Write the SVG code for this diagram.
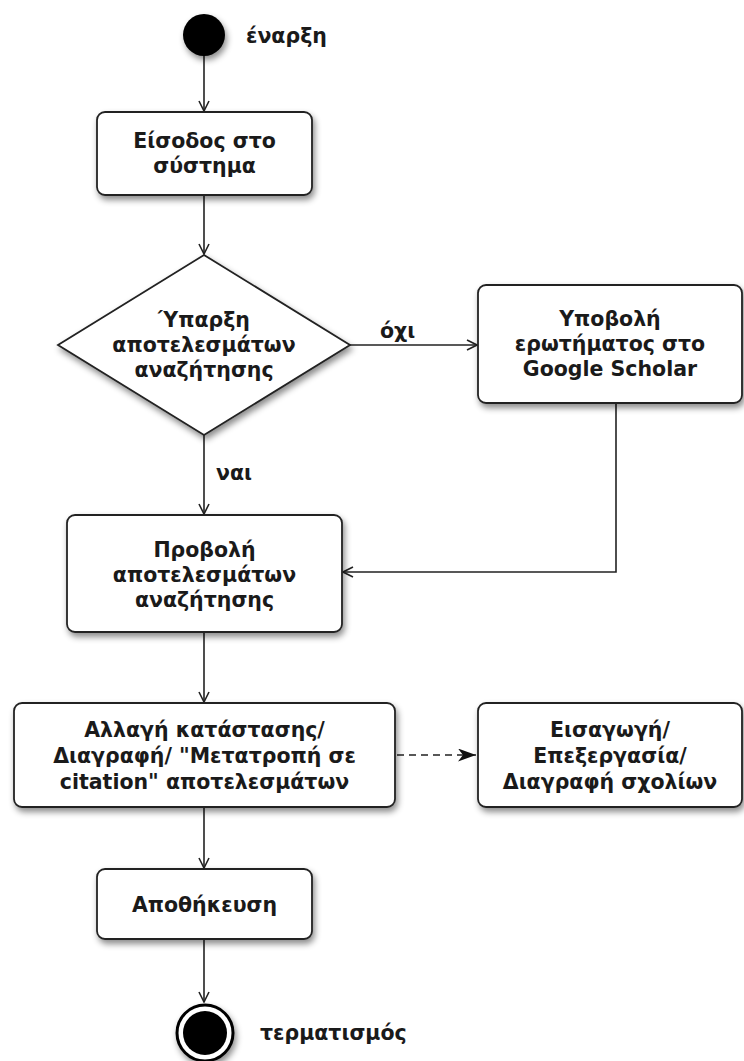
<svg xmlns="http://www.w3.org/2000/svg" width="744" height="1061" viewBox="0 0 744 1061">
<style>
.box{fill:#fff;stroke:#222;stroke-width:1.8;filter:url(#sh)}
.t{font-family:"DejaVu Sans","Liberation Sans",sans-serif;font-weight:bold;font-size:20.5px;fill:#1a1a1a;text-anchor:middle}
.lbl{font-family:"DejaVu Sans","Liberation Sans",sans-serif;font-weight:bold;font-size:20.5px;fill:#1a1a1a}
.c{fill:none;stroke:#222;stroke-width:1.6}
</style>
<defs>
<filter id="sh" x="-20%" y="-20%" width="150%" height="160%">
<feDropShadow dx="2" dy="4" stdDeviation="3" flood-color="#000" flood-opacity="0.45"/>
</filter>
<marker id="open" viewBox="0 0 12 12" refX="11" refY="6" markerWidth="12" markerHeight="12" markerUnits="userSpaceOnUse" orient="auto">
<path d="M1,1 L11,6 L1,11" fill="none" stroke="#222" stroke-width="1.6"/>
</marker>
<marker id="filled" viewBox="0 0 18 13" refX="18" refY="6.5" markerWidth="18" markerHeight="13" markerUnits="userSpaceOnUse" orient="auto">
<path d="M0,0 L18,6.5 L0,13 L5,6.5 Z" fill="#111"/>
</marker>
</defs>

<g id="connectors">
<path class="c" d="M204,56 L204,111" marker-end="url(#open)"/>
<path class="c" d="M204,195 L204,254" marker-end="url(#open)"/>
<path class="c" d="M350,345 L477,345" marker-end="url(#open)"/>
<path class="c" d="M204,435 L204,514" marker-end="url(#open)"/>
<path class="c" d="M616,403 L616,572 L343,572" marker-end="url(#open)"/>
<path class="c" d="M204,632 L204,702" marker-end="url(#open)"/>
<path class="c" d="M397,755 L476,755" stroke-width="2.4" stroke-dasharray="7,5" marker-end="url(#filled)"/>
<path class="c" d="M204,807 L204,868" marker-end="url(#open)"/>
<path class="c" d="M204,939 L204,1002" marker-end="url(#open)"/>
<text class="lbl" x="380" y="338">όχι</text>
<text class="lbl" x="216" y="480">ναι</text>
</g>

<g id="start">
<circle cx="204" cy="35" r="21" fill="#000" filter="url(#sh)"/>
<text class="lbl" x="246" y="43">έναρξη</text>
</g>

<g id="login">
<rect class="box" x="97" y="112" width="215" height="83" rx="8"/>
<text class="t" x="204.5" y="148">Είσοδος στο</text>
<text class="t" x="204.5" y="173">σύστημα</text>
</g>

<g id="decision">
<polygon class="box" points="204,255 350,345 204,435 58,345"/>
<text class="t" x="204" y="327">Ύπαρξη</text>
<text class="t" x="204" y="352">αποτελεσμάτων</text>
<text class="t" x="204" y="377">αναζήτησης</text>
</g>

<g id="query">
<rect class="box" x="478" y="285" width="264" height="118" rx="8"/>
<text class="t" x="610" y="326">Υποβολή</text>
<text class="t" x="610" y="351">ερωτήματος στο</text>
<text class="t" x="610" y="376">Google Scholar</text>
</g>

<g id="show">
<rect class="box" x="67" y="515" width="275" height="117" rx="8"/>
<text class="t" x="204.5" y="557">Προβολή</text>
<text class="t" x="204.5" y="582">αποτελεσμάτων</text>
<text class="t" x="204.5" y="607">αναζήτησης</text>
</g>

<g id="change">
<rect class="box" x="14" y="703" width="381" height="104" rx="8"/>
<text class="t" x="204.5" y="737">Αλλαγή κατάστασης/</text>
<text class="t" x="204.5" y="763">Διαγραφή/ "Μετατροπή σε</text>
<text class="t" x="204.5" y="789">citation" αποτελεσμάτων</text>
</g>

<g id="comments">
<rect class="box" x="478" y="703" width="264" height="104" rx="8"/>
<text class="t" x="610" y="737">Εισαγωγή/</text>
<text class="t" x="610" y="763">Επεξεργασία/</text>
<text class="t" x="610" y="789">Διαγραφή σχολίων</text>
</g>

<g id="save">
<rect class="box" x="97" y="869" width="215" height="70" rx="8"/>
<text class="t" x="204.5" y="912">Αποθήκευση</text>
</g>

<g id="end">
<circle cx="205" cy="1033" r="28" fill="#fff" stroke="#000" stroke-width="3" filter="url(#sh)"/>
<circle cx="205" cy="1033" r="22" fill="#000"/>
<text class="lbl" x="260" y="1040">τερματισμός</text>
</g>
</svg>
